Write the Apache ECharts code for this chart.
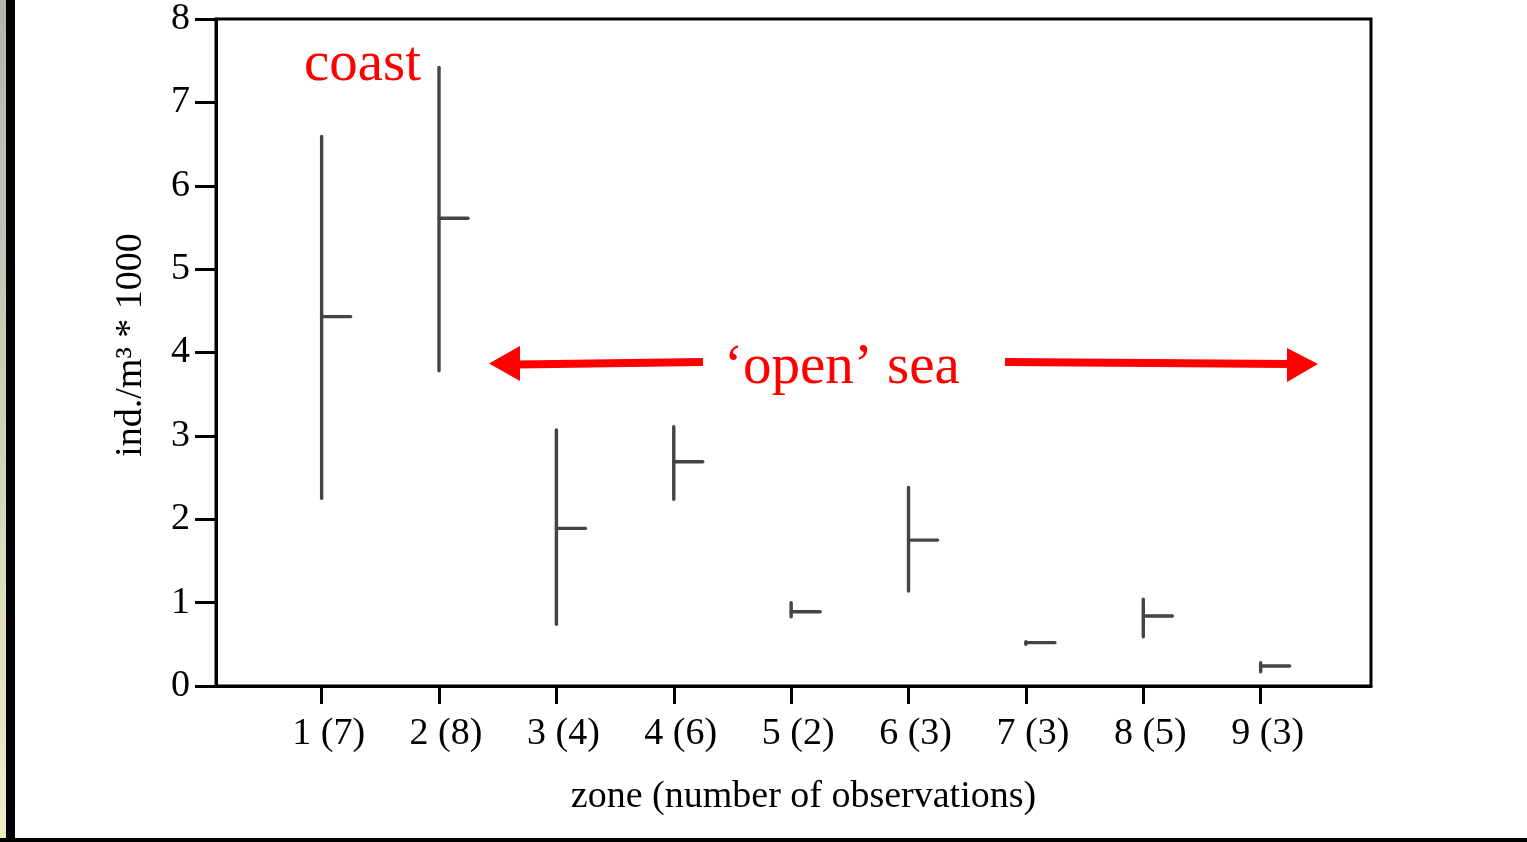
<!DOCTYPE html>
<html>
<head>
<meta charset="utf-8">
<script src="https://cdn.jsdelivr.net/npm/echarts@6/dist/echarts.min.js"></script>
<style>
html,body{margin:0;padding:0;background:#fff;}
#c{width:1527px;height:842px;}
</style>
</head>
<body>
<div id="c"></div>
<script>
// ---- data ----
var zones = [1, 2, 3, 4, 5, 6, 7, 8, 9];
var zoneLabels = ['1 (7)', '2 (8)', '3 (4)', '4 (6)', '5 (2)', '6 (3)', '7 (3)', '8 (5)', '9 (3)'];
var lowValues  = [2.25, 3.78, 0.74, 2.24, 0.83, 1.14, 0.50, 0.59, 0.17];
var highValues = [6.59, 7.42, 3.07, 3.11, 1.00, 2.38, 0.53, 1.04, 0.28];
var meanValues = [4.43, 5.61, 1.89, 2.69, 0.89, 1.75, 0.52, 0.84, 0.24];
var yTicks = [0, 1, 2, 3, 4, 5, 6, 7, 8];

var FONT = "'Liberation Serif', 'Times New Roman', serif";
var BAR = '#444444';

var seriesData = zones.map(function (z, i) {
  return [z, lowValues[i], highValues[i], meanValues[i]];
});

var chart = echarts.init(document.getElementById('c'), null, {renderer: 'canvas'});

function renderItem(params, api) {
  var x = api.value(0);
  var lo = api.coord([x, api.value(1)]);
  var hi = api.coord([x, api.value(2)]);
  var mn = api.coord([x, api.value(3)]);
  var st = {stroke: BAR, lineWidth: 3.4, lineCap: 'round'};
  return {
    type: 'group',
    children: [
      {type: 'line', shape: {x1: lo[0], y1: lo[1], x2: hi[0], y2: hi[1]}, style: st},
      {type: 'line', shape: {x1: mn[0], y1: mn[1], x2: mn[0] + 29, y2: mn[1]}, style: st}
    ]
  };
}

var option = {
  backgroundColor: '#ffffff',
  animation: false,
  grid: {
    left: 216, top: 17, right: 156, bottom: 156,
    show: true, borderColor: '#000', borderWidth: 3, backgroundColor: 'transparent'
  },
  xAxis: {
    type: 'value',
    min: 0.1, max: 9.94,
    splitLine: {show: false},
    axisLine: {show: true, lineStyle: {color: '#000', width: 3}},
    axisTick: {show: true, customValues: zones, length: 18, inside: false, lineStyle: {color: '#000', width: 3}},
    axisLabel: {
      customValues: zones,
      margin: 29,
      padding: [0, 0, 0, 14],
      fontFamily: FONT, fontSize: 38, color: '#000',
      formatter: function (v) {
        var i = zones.indexOf(Math.round(v));
        return i >= 0 ? zoneLabels[i] : '';
      }
    },
    name: 'zone (number of observations)',
    nameLocation: 'middle',
    nameGap: 92,
    nameTextStyle: {fontFamily: FONT, fontSize: 38, color: '#000', padding: [0, 0, 0, 20]}
  },
  yAxis: {
    type: 'value',
    min: 0, max: 8, interval: 1,
    splitLine: {show: false},
    axisLine: {show: true, lineStyle: {color: '#000', width: 3}},
    axisTick: {show: true, length: 21, inside: false, lineStyle: {color: '#000', width: 3}},
    axisLabel: {
      margin: 26,
      fontFamily: FONT, fontSize: 38, color: '#000',
      formatter: function (v) { return yTicks.indexOf(v) >= 0 ? String(v) : ''; }
    },
    name: 'ind./m³ * 1000',
    nameLocation: 'middle',
    nameGap: 66,
    nameTextStyle: {fontFamily: FONT, fontSize: 38, color: '#000', padding: [0, 0, 0, 15]}
  },
  series: [{
    type: 'custom',
    renderItem: renderItem,
    data: seriesData,
    clip: false,
    z: 5
  }],
  graphic: [
    // page decoration: left strip and bottom rule
    {type: 'rect', shape: {x: 0, y: 0, width: 6, height: 842}, silent: true,
     style: {fill: new echarts.graphic.LinearGradient(0, 0, 0, 1, [
       {offset: 0, color: '#b4b4ae'}, {offset: 1, color: '#eeeec6'}])}},
    {type: 'rect', shape: {x: 6, y: 0, width: 9, height: 842}, silent: true, style: {fill: '#000'}},
    {type: 'rect', shape: {x: 0, y: 838, width: 1527, height: 4}, silent: true, style: {fill: '#000'}},
    // annotations
    {type: 'text', x: 304, y: 94, silent: true,
     style: {text: 'coast', font: '57px ' + FONT, fill: '#ff0000', textAlign: 'left', textVerticalAlign: 'bottom'}},
    {type: 'text', x: 724, y: 397, silent: true,
     style: {text: '\u2018open\u2019 sea', font: '57px ' + FONT, fill: '#ff0000', textAlign: 'left', textVerticalAlign: 'bottom'}},
    {type: 'polyline', silent: true, shape: {points: [[518, 364.5], [703, 362]]},
     style: {stroke: '#ff0000', lineWidth: 8, fill: null}},
    {type: 'polygon', silent: true, shape: {points: [[489, 363.5], [520, 346], [520, 381]]},
     style: {fill: '#ff0000'}},
    {type: 'polyline', silent: true, shape: {points: [[1005, 362], [1290, 364]]},
     style: {stroke: '#ff0000', lineWidth: 8, fill: null}},
    {type: 'polygon', silent: true, shape: {points: [[1318, 364], [1287, 348], [1287, 382]]},
     style: {fill: '#ff0000'}}
  ]
};

chart.setOption(option);
</script>
</body>
</html>
